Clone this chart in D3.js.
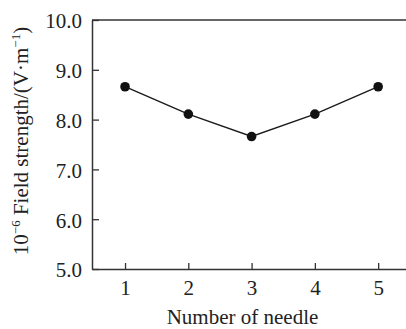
<!DOCTYPE html>
<html>
<head>
<meta charset="utf-8">
<script src="https://cdn.jsdelivr.net/npm/d3@7"></script>
<style>
  body { margin: 0; background: #fff; }
  text { font-family: "Liberation Serif", "DejaVu Serif", serif; fill: #222; }
</style>
</head>
<body>
<div id="chart"></div>
<script>
// Data
const needles = [1, 2, 3, 4, 5];
const fieldStrength = [8.66, 8.11, 7.66, 8.11, 8.66];
const yTicks = [5, 6, 7, 8, 9, 10];
const xTitle = "Number of needle";

const W = 406, H = 329;
const margin = {top: 20, right: 0, bottom: 60, left: 92};
const width = W - margin.left - margin.right;
const height = H - margin.top - margin.bottom;

const svg = d3.select("#chart").append("svg")
    .attr("width", W)
    .attr("height", H)
  .append("g")
    .attr("transform", `translate(${margin.left},${margin.top})`);

// Scales
const x = d3.scaleLinear()
    .domain([0.478, 5.44])
    .range([0, width]);
const y = d3.scaleLinear()
    .domain([5, 10])
    .range([height, 0]);

// Y axis, ticks pointing inward
const yAxis = svg.append("g")
    .call(d3.axisLeft(y).tickValues(yTicks).tickFormat(d3.format(".1f"))
      .tickSizeInner(-7).tickSizeOuter(0).tickPadding(10));

// X axis, ticks pointing inward
const xAxis = svg.append("g")
    .attr("transform", `translate(0,${height})`)
    .call(d3.axisBottom(x).tickValues(needles).tickFormat(d3.format("d"))
      .tickSizeInner(-6).tickSizeOuter(0).tickPadding(12));

[yAxis, xAxis].forEach(g => {
  g.select(".domain").attr("stroke", "#333").attr("stroke-width", 1.5);
  g.selectAll(".tick line").attr("stroke", "#333").attr("stroke-width", 1.3);
  g.selectAll(".tick text")
    .style("font-family", "Liberation Serif, serif")
    .style("font-size", "21px")
    .attr("fill", "#222");
});
yAxis.selectAll(".tick text").attr("dy", "0.38em");
xAxis.selectAll(".tick text").attr("dy", "0.68em");

// Top frame line
svg.append("line")
    .attr("x1", 0).attr("x2", width)
    .attr("y1", y(10)).attr("y2", y(10))
    .attr("stroke", "#333")
    .attr("stroke-width", 1.5);

// Line and markers
const points = needles.map((n, i) => ({n: n, v: fieldStrength[i]}));
const line = d3.line()
    .x(d => x(d.n))
    .y(d => y(d.v));

svg.append("path")
    .datum(points)
    .attr("fill", "none")
    .attr("stroke", "#1a1a1a")
    .attr("stroke-width", 1.4)
    .attr("d", line);

svg.selectAll("circle")
    .data(points)
    .enter()
    .append("circle")
    .attr("cx", d => x(d.n))
    .attr("cy", d => y(d.v))
    .attr("r", 4.8)
    .attr("fill", "#111");

// X axis title
svg.append("text")
    .attr("x", 242.5 - margin.left)
    .attr("y", height + 55)
    .style("text-anchor", "middle")
    .style("font-size", "21px")
    .text(xTitle);

// Y axis title with superscripts
const yTitle = svg.append("text")
    .attr("transform", "rotate(-90)")
    .attr("x", -(141 - margin.top))
    .attr("y", 28 - margin.left)
    .style("text-anchor", "middle")
    .style("font-size", "21px");
yTitle.append("tspan").text("10");
yTitle.append("tspan").attr("dy", -8).style("font-size", "13px").text("\u22126");
yTitle.append("tspan").attr("dy", 8).text(" Field strength/(V\u00b7m");
yTitle.append("tspan").attr("dy", -8).style("font-size", "13px").text("\u22121");
yTitle.append("tspan").attr("dy", 8).text(")");
</script>
</body>
</html>
